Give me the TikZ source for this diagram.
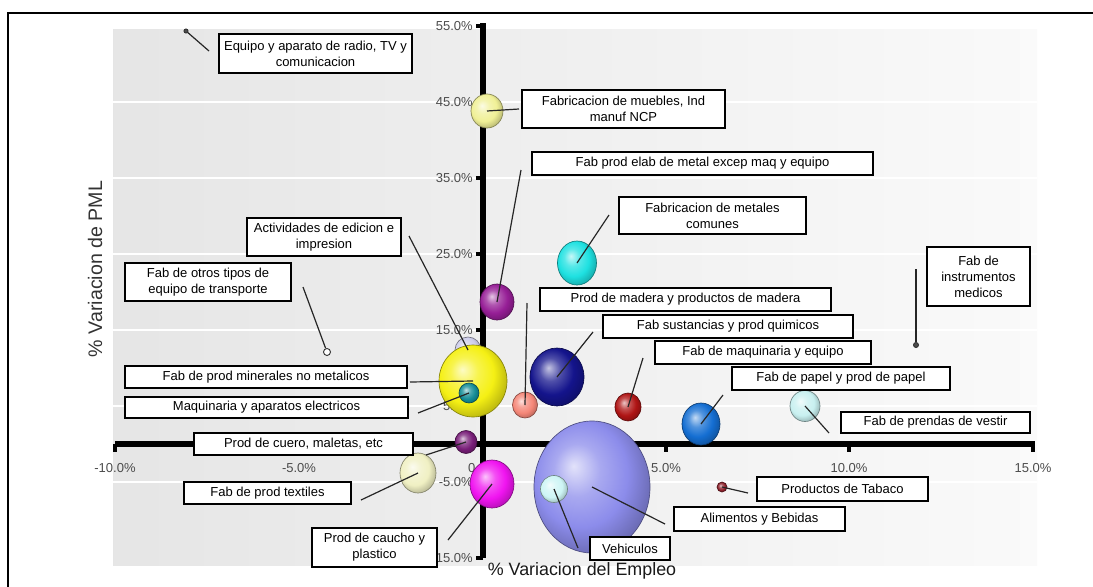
\documentclass[tikz,border=0pt]{standalone}
\usepackage{fontspec}
\setmainfont{Liberation Sans}
\usetikzlibrary{shapes.geometric,shadows}

% soft 3D shading for the bubbles
\makeatletter
\pgfdeclareradialshading[tikz@ball]{softball}{\pgfqpoint{-8bp}{8bp}}{%
 color(0bp)=(tikz@ball!25!white);
 color(10bp)=(tikz@ball!75!white);
 color(20bp)=(tikz@ball);
 color(30bp)=(tikz@ball!75!black);
 color(50bp)=(tikz@ball!50!black)}
\makeatother

\definecolor{cBig}{RGB}{140,140,235}
\definecolor{cVeh}{RGB}{205,245,245}
\definecolor{cEdic}{RGB}{205,205,235}
\definecolor{cYel}{RGB}{245,240,20}
\definecolor{cTeal}{RGB}{20,140,150}
\definecolor{cMueb}{RGB}{240,240,150}
\definecolor{cMetal}{RGB}{150,30,150}
\definecolor{cCyan}{RGB}{30,225,225}
\definecolor{cSalm}{RGB}{245,135,120}
\definecolor{cNavy}{RGB}{20,20,140}
\definecolor{cDRed}{RGB}{175,20,20}
\definecolor{cBlue}{RGB}{20,110,210}
\definecolor{cPren}{RGB}{200,240,240}
\definecolor{cCuero}{RGB}{120,30,120}
\definecolor{cText}{RGB}{240,240,195}
\definecolor{cMag}{RGB}{240,20,240}
\definecolor{cTab}{RGB}{140,30,40}

\begin{document}
\begin{tikzpicture}[x=0.75pt,y=-0.75pt,
  lbl/.style={draw=black, line width=1.1pt, fill=white, align=center, inner sep=0pt,
    font=\fontsize{9.75}{12}\selectfont,
    general shadow={fill=black!35, shadow xshift=1pt, shadow yshift=-1pt}},
  bsz/.style 2 args={minimum width=#1*0.75pt, minimum height=#2*0.75pt},
  bub/.style={ellipse, inner sep=0pt, draw=#1!55!black, line width=0.5pt,
    ball color=#1, shading=softball},
  dotb/.style={circle, inner sep=0pt, minimum size=#1*0.75pt, draw=black!80, line width=0.7pt},
  lead/.style={draw=black!85, line width=0.9pt},
  ticklbl/.style={font=\fontsize{9.75}{12}\selectfont, text=black!70, inner sep=0pt},
  axisline/.style={line width=4.5pt},
  axistick/.style={line width=3pt},
]
\useasboundingbox (0,0) rectangle (1093,586);
\clip (0,0) rectangle (1093,586);

% plot area and gridlines
\shade[left color=black!10, right color=black!2] (113,29) rectangle (1037,565);
\foreach \v in {45,35,25,15,5,-5}
  \draw[white, line width=1.5pt] (113,{444-7.6*\v}) -- (1037,{444-7.6*\v});

% outer frame
\draw[line width=1.5pt] (8,600) -- (8,13) -- (1100,13);

% axes with tick marks
\draw[axisline] (115,444) -- (1035,444);
\draw[axisline] (483,23) -- (483,558);
\foreach \v in {55,45,35,25,15,5,-5,-15}
  \draw[axistick] (476,{444-7.6*\v}) -- (483,{444-7.6*\v});
\foreach \x in {115,299,483,666,849,1033}
  \draw[axistick] (\x,444) -- (\x,452);

% tick labels
\foreach \v/\t [count=\i] in {55/55.0\%,45/45.0\%,35/35.0\%,25/25.0\%,15/15.0\%,5/5.0\%,-5/-5.0\%,-15/-15.0\%}
  \node[ticklbl, anchor=east] (yt\i) at (473,{444-7.6*\v}) {\t};
\foreach \x/\t [count=\i] in {115/-10.0\%,299/-5.0\%,483/0.0\%,666/5.0\%,849/10.0\%,1033/15.0\%}
  \node[ticklbl] (xt\i) at (\x,468) {\t};

% axis titles
\node[rotate=90, font=\fontsize{14.7}{16}\selectfont, text=black!80] (ytitle) at (95,269) {\% Variacion de PML};
\node[font=\fontsize{13.4}{16}\selectfont, text=black!90] (xtitle) at (582,571) {\% Variacion del Empleo};

% bubbles
\node[bub=cBig, bsz={116}{132}] (bAlim) at (592,487) {};
\node[bub=cVeh, bsz={27}{27}] (bVeh) at (554,489) {};
\node[bub=cEdic, bsz={26}{26}] (bEdic) at (468,350) {};
\node[bub=cYel, bsz={68}{72}] (bMin) at (473,381) {};
\node[bub=cTeal, bsz={20}{20}] (bMaqE) at (469,393) {};
\node[bub=cMueb, bsz={32}{34}] (bMueb) at (487,111) {};
\node[bub=cMetal, bsz={34}{36}] (bMetal) at (497,302) {};
\node[bub=cCyan, bsz={39}{44}] (bComun) at (577,263) {};
\node[bub=cSalm, bsz={25}{26}] (bMad) at (525,405) {};
\node[bub=cNavy, bsz={54}{58}] (bSust) at (557,377) {};
\node[bub=cDRed, bsz={26}{28}] (bMaq) at (628,407) {};
\node[bub=cBlue, bsz={38}{42}] (bPapel) at (701,424) {};
\node[bub=cPren, bsz={30}{31}] (bPren) at (805,406) {};
\node[bub=cCuero, bsz={22}{23}] (bCuero) at (466,442) {};
\node[bub=cText, bsz={36}{40}] (bText) at (418,473) {};
\node[bub=cMag, bsz={44}{48}] (bCauc) at (492,484) {};
\node[bub=cTab, bsz={10}{10}] (bTab) at (722,487) {};
\node[dotb=4, fill=black!70] (bEquipo) at (186,31) {};
\node[dotb=7, fill=white] (bOtros) at (327,352) {};
\node[dotb=5, fill=black!70] (bInstr) at (916,345) {};

% free ends of the leader lines
\coordinate (eA) at (209,51);
\coordinate (eB) at (519,109);
\coordinate (eC) at (521,170);
\coordinate (eD) at (609,215);
\coordinate (eE) at (409,236);
\coordinate (eF) at (303,287);
\coordinate (eG) at (527,303);
\coordinate (eH) at (593,332);
\coordinate (eI) at (643,358);
\coordinate (eJ) at (723,395);
\coordinate (eK) at (916,269);
\coordinate (eL) at (829,433);
\coordinate (eM) at (410,382);
\coordinate (eN) at (418,413);
\coordinate (eO) at (426,455);
\coordinate (eP) at (361,500);
\coordinate (eQ) at (448,540);
\coordinate (eR) at (748,493);
\coordinate (eS) at (665,524);
\coordinate (eT) at (578,548);

% leader lines
\draw[lead] (eA) -- (bEquipo);
\draw[lead] (eB) -- (bMueb.center);
\draw[lead] (eC) -- (bMetal.center);
\draw[lead] (eD) -- (bComun.center);
\draw[lead] (eE) -- (bEdic.center);
\draw[lead] (eF) -- (bOtros);
\draw[lead] (eG) -- (bMad.center);
\draw[lead] (eH) -- (bSust.center);
\draw[lead] (eI) -- (bMaq.center);
\draw[lead] (eJ) -- (bPapel.center);
\draw[lead] (eK) -- (bInstr);
\draw[lead] (eL) -- (bPren.center);
\draw[lead] (eM) -- (bMin.center);
\draw[lead] (eN) -- (bMaqE.center);
\draw[lead] (eO) -- (bCuero.center);
\draw[lead] (eP) -- (bText.center);
\draw[lead] (eQ) -- (bCauc.center);
\draw[lead] (eR) -- (bTab.center);
\draw[lead] (eS) -- (bAlim.center);
\draw[lead] (eT) -- (bVeh.center);

% labels
\node[lbl, bsz={193}{39}] (lA) at (315.5,53.5) {Equipo y aparato de radio, TV y\\comunicacion};
\node[lbl, bsz={203}{38}] (lB) at (623.5,109) {Fabricacion de muebles, Ind\\manuf NCP};
\node[lbl, bsz={341}{23}] (lC) at (702.5,163.5) {Fab prod elab de metal excep maq y equipo};
\node[lbl, bsz={187}{37}] (lD) at (712.5,215.5) {Fabricacion de metales\\comunes};
\node[lbl, bsz={154}{38}] (lE) at (324,237) {Actividades de edicion e\\impresion};
\node[lbl, bsz={166}{38}] (lF) at (208,282) {Fab de otros tipos de\\equipo de transporte};
\node[lbl, bsz={291}{23}] (lG) at (685.5,299.5) {Prod de madera y productos de madera};
\node[lbl, bsz={250}{23}] (lH) at (728,326.5) {Fab sustancias y prod quimicos};
\node[lbl, bsz={216}{23}] (lI) at (763,352.5) {Fab de maquinaria y equipo};
\node[lbl, bsz={218}{23}] (lJ) at (841,378.5) {Fab de papel y prod de papel};
\node[lbl, bsz={103}{59}] (lK) at (978.5,276.5) {Fab de\\instrumentos\\medicos};
\node[lbl, bsz={189}{21}] (lL) at (935.5,422.5) {Fab de prendas de vestir};
\node[lbl, bsz={282}{22}] (lM) at (266,377) {Fab de prod minerales no metalicos};
\node[lbl, bsz={283}{21}] (lN) at (266.5,407.5) {Maquinaria y aparatos electricos};
\node[lbl, bsz={219}{22}] (lO) at (303.5,444) {Prod de cuero, maletas, etc};
\node[lbl, bsz={167}{22}] (lP) at (267.5,493) {Fab de prod textiles};
\node[lbl, bsz={125}{39}] (lQ) at (374.5,547.5) {Prod de caucho y\\plastico};
\node[lbl, bsz={171}{24}] (lR) at (842.5,489) {Productos de Tabaco};
\node[lbl, bsz={171}{24}] (lS) at (759.5,519) {Alimentos y Bebidas};
\node[lbl, bsz={80}{23}] (lT) at (630,548.5) {Vehiculos};
\end{tikzpicture}
\end{document}
